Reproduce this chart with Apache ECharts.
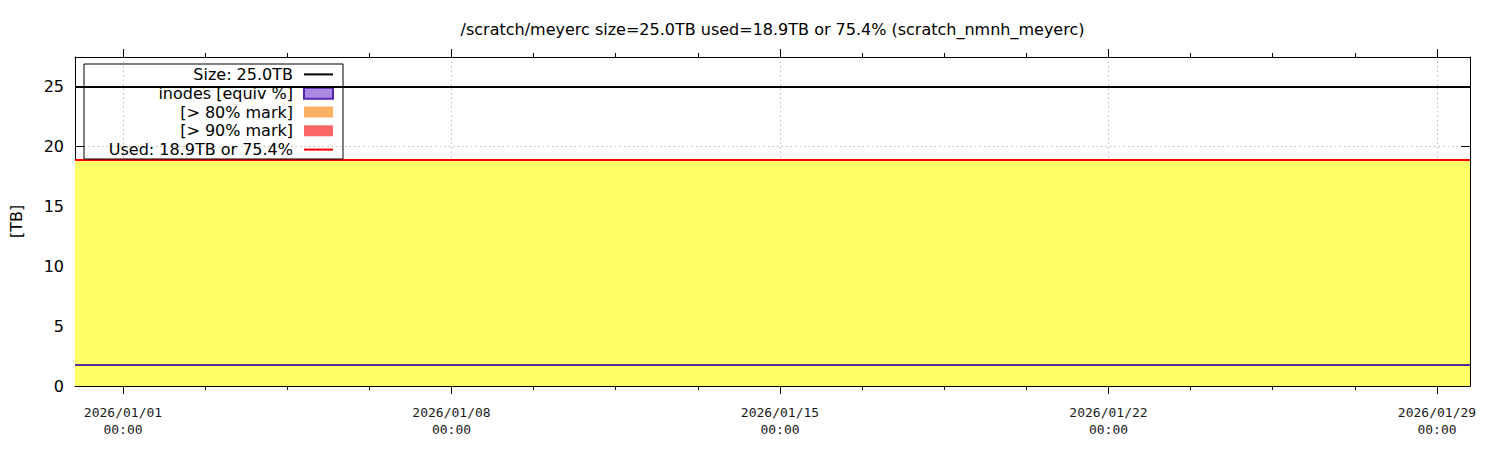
<!DOCTYPE html>
<html><head><meta charset="utf-8">
<script src="https://cdn.jsdelivr.net/npm/echarts@6/dist/echarts.min.js"></script>
<style>html,body{margin:0;padding:0;background:#fff}#c{width:1500px;height:450px}</style>
</head><body><div id="c"></div>
<script>
const chartTitle = '/scratch/meyerc size=25.0TB used=18.9TB or 75.4% (scratch_nmnh_meyerc)';
const times = [
  '2025-12-30 23:27','2025-12-31 12:00',
  '2026-01-01 12:00','2026-01-02 12:00','2026-01-03 12:00','2026-01-04 12:00','2026-01-05 12:00',
  '2026-01-06 12:00','2026-01-07 12:00','2026-01-08 12:00','2026-01-09 12:00','2026-01-10 12:00',
  '2026-01-11 12:00','2026-01-12 12:00','2026-01-13 12:00','2026-01-14 12:00','2026-01-15 12:00',
  '2026-01-16 12:00','2026-01-17 12:00','2026-01-18 12:00','2026-01-19 12:00','2026-01-20 12:00',
  '2026-01-21 12:00','2026-01-22 12:00','2026-01-23 12:00','2026-01-24 12:00','2026-01-25 12:00',
  '2026-01-26 12:00','2026-01-27 12:00','2026-01-28 12:00','2026-01-29 12:00','2026-01-29 16:53'
];
const usedTB = [
  18.9,18.9,18.9,18.9,18.9,18.9,18.9,18.9,18.9,18.9,18.9,18.9,18.9,18.9,18.9,18.9,
  18.9,18.9,18.9,18.9,18.9,18.9,18.9,18.9,18.9,18.9,18.9,18.9,18.9,18.9,18.9,18.9
];
const inodesTB = [
  1.75,1.75,1.75,1.75,1.75,1.75,1.75,1.75,1.75,1.75,1.75,1.75,1.75,1.75,1.75,1.75,
  1.75,1.75,1.75,1.75,1.75,1.75,1.75,1.75,1.75,1.75,1.75,1.75,1.75,1.75,1.75,1.75
];
const sizeTB = [
  25.0,25.0,25.0,25.0,25.0,25.0,25.0,25.0,25.0,25.0,25.0,25.0,25.0,25.0,25.0,25.0,
  25.0,25.0,25.0,25.0,25.0,25.0,25.0,25.0,25.0,25.0,25.0,25.0,25.0,25.0,25.0,25.0
];
const seriesNames = ['Size: 25.0TB', 'inodes [equiv %]', '[> 80% mark]', '[> 90% mark]', 'Used: 18.9TB or 75.4%'];
const yTicks = [0, 5, 10, 15, 20, 25];
const xMajorTicks = ['2026-01-01 00:00','2026-01-08 00:00','2026-01-15 00:00','2026-01-22 00:00','2026-01-29 00:00'];
const xMinorTicks = [
  '2026-01-02 18:00','2026-01-04 12:00','2026-01-06 06:00',
  '2026-01-09 18:00','2026-01-11 12:00','2026-01-13 06:00',
  '2026-01-16 18:00','2026-01-18 12:00','2026-01-20 06:00',
  '2026-01-23 18:00','2026-01-25 12:00','2026-01-27 06:00'
];
const xMin = '2025-12-30 23:27';
const xMax = '2026-01-29 16:53';

const ts = (s) => Date.parse(s.replace(' ', 'T') + ':00Z');
const pair = (arr) => times.map((t, i) => [ts(t), arr[i]]);
const gridLine = { show: true, lineStyle: { color: '#bdbdbd', width: 1, type: [1.5, 3] } };
const black = { color: '#000', width: 1 };
function xAx(pos, ticks, len, showLine, labels, split) {
  const tv = ticks.map(ts);
  return {
    type: 'value', min: ts(xMin), max: ts(xMax), position: pos, scale: true,
    axisLine: { show: showLine, onZero: false, lineStyle: black },
    axisTick: { show: true, inside: false, length: len, customValues: tv, lineStyle: black },
    axisLabel: labels ? {
      show: true, customValues: tv, color: '#1a1a1a', fontFamily: 'DejaVu Sans Mono', fontSize: 13,
      lineHeight: 17, margin: 18, hideOverlap: false,
      formatter: (v) => echarts.time.format(v, '{yyyy}/{MM}/{dd}\n{HH}:{mm}', true)
    } : { show: false },
    splitLine: split ? gridLine : { show: false },
    minorTick: { show: false }
  };
}
const chart = echarts.init(document.getElementById('c'), null, { renderer: 'svg' });
chart.setOption({
  animation: false,
  backgroundColor: '#fff',
  title: {
    text: chartTitle, left: 772.5, top: 21, textAlign: 'center', padding: 0,
    textStyle: { fontFamily: 'DejaVu Sans', fontSize: 16, fontWeight: 'normal', color: '#000' }
  },
  grid: { left: 75, right: 30, top: 57, bottom: 64, containLabel: false, outerBoundsMode: 'none' },
  legend: {
    orient: 'vertical', left: 84, top: 64, align: 'right',
    padding: [1, 9, 0, 5], itemGap: 0, itemWidth: 29, itemHeight: 11,
    borderColor: '#000', borderWidth: 1, backgroundColor: 'transparent',
    selectedMode: false,
    textStyle: { fontFamily: 'DejaVu Sans', fontSize: 16, color: '#000', width: 204, lineHeight: 18.8, padding: [0, 6, 0, 0], align: 'right' },
    data: [
      { name: seriesNames[0], icon: 'path://M0,0H29V2H0Z', itemStyle: { color: '#000', borderWidth: 0 } },
      { name: seriesNames[1], icon: 'rect', itemStyle: { color: '#a88ae2', borderColor: '#5a22b0', borderWidth: 2 } },
      { name: seriesNames[2], icon: 'rect', itemStyle: { color: '#ffb063', borderWidth: 0 } },
      { name: seriesNames[3], icon: 'rect', itemStyle: { color: '#ff6666', borderWidth: 0 } },
      { name: seriesNames[4], icon: 'path://M0,0H29V2H0Z', itemStyle: { color: '#ff0000', borderWidth: 0 } }
    ]
  },
  xAxis: [
    xAx('bottom', xMajorTicks, 8, true, true, true),
    xAx('bottom', xMinorTicks, 4, false, false, false),
    xAx('top', xMajorTicks, 8, true, false, false),
    xAx('top', xMinorTicks, 4, false, false, false)
  ],
  yAxis: [
    {
      type: 'value', min: 0, max: 27.5, position: 'left',
      name: '[TB]', nameLocation: 'middle', nameGap: 51,
      nameTextStyle: { fontFamily: 'DejaVu Sans', fontSize: 16, color: '#000' },
      axisLine: { show: true, onZero: false, lineStyle: black },
      axisTick: { show: true, inside: true, length: 9, customValues: yTicks, lineStyle: black },
      axisLabel: { customValues: yTicks, color: '#000', fontFamily: 'DejaVu Sans', fontSize: 16, margin: 11 },
      splitLine: gridLine
    },
    {
      type: 'value', min: 0, max: 27.5, position: 'right',
      axisLine: { show: true, onZero: false, lineStyle: black },
      axisTick: { show: true, inside: true, length: 9, customValues: yTicks, lineStyle: black },
      axisLabel: { show: false },
      splitLine: { show: false }
    }
  ],
  series: [
    {
      name: seriesNames[4], type: 'line', data: pair(usedTB), symbol: 'none', color: '#ff0000',
      lineStyle: { width: 2, color: '#ff0000' }, areaStyle: { color: '#ffff66', opacity: 1 }, z: 2
    },
    {
      name: seriesNames[1], type: 'line', data: pair(inodesTB), symbol: 'none', color: '#5c2a9d',
      lineStyle: { width: 2, color: '#5c2a9d' }, z: 3
    },
    { name: seriesNames[2], type: 'line', data: [], symbol: 'none', color: '#ffb063' },
    { name: seriesNames[3], type: 'line', data: [], symbol: 'none', color: '#ff6666' },
    {
      name: seriesNames[0], type: 'line', data: pair(sizeTB), symbol: 'none', color: '#000',
      lineStyle: { width: 2, color: '#000' }, z: 4
    }
  ]
});
</script>
</body></html>
